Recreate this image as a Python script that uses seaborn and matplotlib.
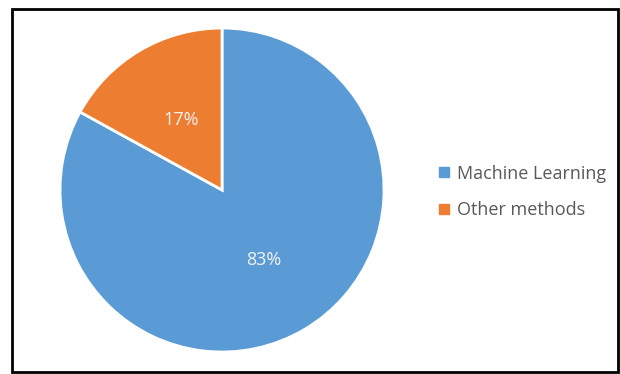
import matplotlib
matplotlib.use("Agg")
import matplotlib.pyplot as plt
import seaborn as sns
from matplotlib.patches import Rectangle
from matplotlib.lines import Line2D

sns.set_theme(style="white")
plt.rcParams['font.family'] = ['Open Sans', 'DejaVu Sans']

categories = ["Machine Learning", "Other methods"]
values = [83, 17]
colors = ["#5B9BD5", "#ED7D31"]

fig = plt.figure(figsize=(6.2, 3.74), dpi=100)
ax = fig.add_axes([0.0968, 0.0588, 0.5226, 0.8663])
wedges, texts, autotexts = ax.pie(values, colors=colors, startangle=90, counterclock=False,
       autopct=lambda p: f"{p:.0f}%", pctdistance=0.5,
       wedgeprops=dict(edgecolor="white", linewidth=2),
       textprops=dict(color="#F2F2F2", fontsize=13))
ax.set_aspect("equal")
ax.set_xlim(-1, 1)
ax.set_ylim(-1, 1)

handles = [Line2D([0], [0], marker='s', linestyle='', markersize=6.5, markerfacecolor=c,
                  markeredgecolor=c) for c in colors]
fig.legend(handles, categories, loc="center left", bbox_to_anchor=(0.676, 0.4866),
           frameon=False, fontsize=13, labelcolor="#595959", handletextpad=0.2,
           handlelength=1.0, labelspacing=1.02)

fig.patches.append(Rectangle((0.02, 0.005), 0.977, 0.97, transform=fig.transFigure,
                             fill=False, edgecolor="black", linewidth=2))
fig.savefig("out.png", dpi=100, facecolor="white")
